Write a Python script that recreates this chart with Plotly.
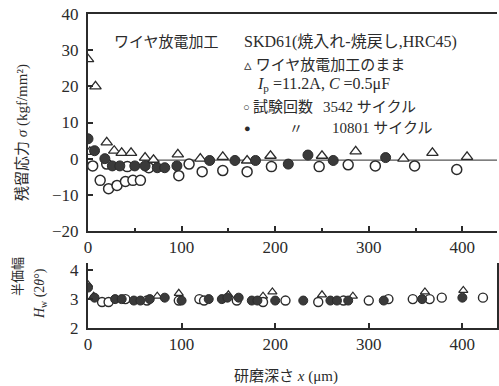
import plotly.graph_objects as go

# ---- data (top panel: residual stress sigma, kgf/mm^2) ----
tri_x = [0, 8, 2, 20, 28, 36, 46, 61, 70, 96, 120, 144, 170, 195, 250, 286, 337, 368, 405]
tri_y = [27.5, 20, 1.9, 4.5, 2.2, 1.6, 1.6, 0.3, -0.3, 1.2, 0.0, 0.5, -0.5, 0.8, 0.8, 2.0, 0.0, 1.6, 0.5]

open_x = [5, 13, 22, 31, 40, 48, 56, 20, 42, 65, 97, 108, 122, 144, 170, 196, 247, 278, 307, 349, 394]
open_y = [-2.0, -6.0, -8.3, -7.4, -6.3, -6.0, -6.0, -1.5, -2.2, -2.5, -4.7, -1.5, -3.6, -3.3, -3.6, -2.2, -2.2, -1.7, -2.0, -2.0, -3.0]

fill_x = [0, 7, 18, 26, 34, 50, 61, 74, 82, 95, 130, 157, 179, 214, 235, 262, 318]
fill_y = [5.5, 2.2, 0.0, -2.0, -2.0, -2.0, -2.0, -2.5, -2.5, -2.0, -0.5, -0.5, -0.5, -1.5, 1.0, -0.5, 0.3]

trend_x = [55, 440]
trend_y = [-0.4, -0.4]

# ---- data (bottom panel: half-value breadth Hw, 2theta deg) ----
htri_x = [0, 6, 74, 97, 150, 187, 197, 250, 283, 360, 401]
htri_y = [3.5, 3.1, 3.1, 3.2, 3.15, 3.1, 3.25, 3.15, 3.1, 3.25, 3.3]

hopen_x = [15, 22, 40, 63, 97, 119, 124, 159, 187, 211, 246, 273, 300, 321, 347, 365, 378, 422]
hopen_y = [2.9, 2.9, 3.0, 2.95, 2.95, 3.0, 2.95, 2.95, 2.9, 2.95, 2.9, 2.95, 2.95, 3.0, 3.0, 3.0, 3.05, 3.05]

hfill_x = [0, 7, 29, 36, 49, 56, 66, 82, 100, 129, 143, 149, 161, 175, 181, 200, 230, 259, 266, 278, 316, 357, 400]
hfill_y = [3.4, 3.05, 3.0, 3.0, 2.95, 2.95, 3.0, 3.05, 2.95, 3.0, 3.0, 3.05, 3.05, 2.95, 2.95, 2.95, 2.95, 2.95, 2.95, 2.95, 2.95, 3.0, 3.05]

x_ticks = [0, 100, 200, 300, 400]
y1_ticks = [-20, -10, 0, 10, 20, 30, 40]
y2_ticks = [2, 3, 4]

INK = "#2b2b2b"
FONT = "Liberation Serif, Noto Sans CJK JP, serif"

fig = go.Figure()

# top panel
fig.add_trace(go.Scatter(x=trend_x, y=trend_y, mode="lines", line=dict(color="#555", width=1.2),
                         xaxis="x", yaxis="y", showlegend=False, hoverinfo="skip"))
fig.add_trace(go.Scatter(x=tri_x, y=tri_y, mode="markers", xaxis="x", yaxis="y",
                         marker=dict(symbol="triangle-up", size=10, color="white",
                                     line=dict(color=INK, width=1.3)), showlegend=False))
fig.add_trace(go.Scatter(x=open_x, y=open_y, mode="markers", xaxis="x", yaxis="y",
                         marker=dict(symbol="circle", size=10, color="white",
                                     line=dict(color=INK, width=1.5)), showlegend=False))
fig.add_trace(go.Scatter(x=fill_x, y=fill_y, mode="markers", xaxis="x", yaxis="y",
                         marker=dict(symbol="circle", size=10, color="#3a3a3a",
                                     line=dict(color=INK, width=1)), showlegend=False))
# bottom panel
fig.add_trace(go.Scatter(x=htri_x, y=htri_y, mode="markers", xaxis="x2", yaxis="y2",
                         marker=dict(symbol="triangle-up", size=8, color="white",
                                     line=dict(color=INK, width=1.2)), showlegend=False))
fig.add_trace(go.Scatter(x=hopen_x, y=hopen_y, mode="markers", xaxis="x2", yaxis="y2",
                         marker=dict(symbol="circle", size=9, color="white",
                                     line=dict(color=INK, width=1.4)), showlegend=False))
fig.add_trace(go.Scatter(x=hfill_x, y=hfill_y, mode="markers", xaxis="x2", yaxis="y2",
                         marker=dict(symbol="circle", size=9, color="#3a3a3a",
                                     line=dict(color=INK, width=1)), showlegend=False))

W, H = 499, 386
def px(x):
    return x / W
def py(y):
    return 1 - y / H

axis_common = dict(showgrid=False, zeroline=False, linecolor=INK, linewidth=2,
                   ticks="inside", tickcolor=INK, tickwidth=1.5, automargin=False,
                   tickfont=dict(family=FONT, size=17, color=INK))

fig.update_layout(
    width=W, height=H, autosize=False,
    margin=dict(l=0, r=0, t=0, b=0, pad=0),
    paper_bgcolor="white", plot_bgcolor="white",
    font=dict(family=FONT, color=INK),
    xaxis=dict(axis_common, domain=[px(88), px(497)], range=[0, 437], anchor="y",
               tickvals=x_ticks, ticklen=5, mirror=True, showline=True,
               minor=dict(dtick=50, ticks="inside", ticklen=3, tickcolor=INK)),
    yaxis=dict(axis_common, domain=[py(231), py(14)], range=[-20, 40], anchor="x",
               tickvals=y1_ticks, ticklen=5, showline=True, ticklabelstandoff=4),
    xaxis2=dict(axis_common, domain=[px(88), px(497)], range=[0, 437], anchor="y2",
                tickvals=x_ticks, ticklen=5, showline=True),
    yaxis2=dict(axis_common, domain=[py(328), py(263)], range=[2, 4.25], anchor="x2",
                tickvals=y2_ticks, ticklen=5, showline=True, mirror=True, ticklabelstandoff=4),
)

ann = []
def T(text, x, y, size=13, xanchor="left", angle=0):
    ann.append(dict(text=text, x=px(x), y=py(y), xref="paper", yref="paper",
                    xanchor=xanchor, yanchor="middle", showarrow=False, textangle=angle,
                    borderpad=0, font=dict(family=FONT, size=size, color=INK)))

T("ワイヤ放電加工", 113, 42, size=15)
T("SKD61(焼入れ-焼戻し,HRC45)", 243, 42, size=16)
T("▵ ワイヤ放電加工のまま", 243, 65, size=15)
T("<i>I</i><sub>p</sub> =11.2A, <i>C</i> =0.5μF", 256, 84, size=16)
T("○", 242, 107, size=11)
T("試験回数", 252, 107, size=15)
T("3542 サイクル", 322, 107, size=15)
T("●", 243, 128, size=11)
T("〃", 288, 128, size=14)
T("10801 サイクル", 331, 128, size=15)

T("残留応力 <i>σ</i> (kgf/mm²)", 22, 133, size=15, xanchor="center", angle=-90)
T("半価幅", 17, 277, size=13, xanchor="center", angle=-90)
T("<i>H</i><sub>w</sub> (2<i>θ</i>°)", 40, 294, size=14, xanchor="center", angle=-90)
T("研磨深さ <i>x</i> (μm)", 286, 376, size=15, xanchor="center")

fig.update_layout(annotations=ann)

fig.write_html("out.html", config={"displayModeBar": False},
               post_script="document.body.style.margin='0';document.body.style.overflow='hidden';")
